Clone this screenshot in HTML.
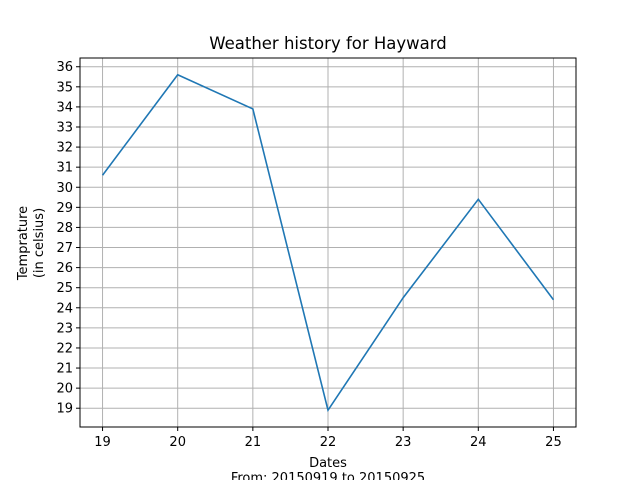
<!DOCTYPE html>
<html><head><meta charset="utf-8">
<style>
html,body{margin:0;padding:0;background:#fff;}
svg text{font-family:"DejaVu Sans",sans-serif;fill:#000;}
</style></head>
<body>
<svg id="chart" width="640" height="480" xmlns="http://www.w3.org/2000/svg">
<rect width="640" height="480" fill="#fff"/>
<text x="328" y="49" font-size="16.5" text-anchor="middle">Weather history for Hayward</text>
<g id="grid"></g>
<g id="ticks"></g>
<polyline id="line" fill="none" stroke="#1f77b4" stroke-width="1.6"/>
<rect x="80" y="58" width="496" height="369" fill="none" stroke="#000" stroke-width="1"/>
<text x="328" y="467" font-size="13" text-anchor="middle">Dates</text>
<text x="328" y="482" font-size="13" text-anchor="middle">From: 20150919 to 20150925</text>
<text transform="translate(27,243) rotate(-90)" font-size="13" text-anchor="middle">Temprature</text>
<text transform="translate(43,243) rotate(-90)" font-size="13" text-anchor="middle">(in celsius)</text>
</svg>
<script>
const dates = [19, 20, 21, 22, 23, 24, 25];
const temps = [30.6, 35.6, 33.9, 18.9, 24.5, 29.4, 24.4];
const yTicks = [19,20,21,22,23,24,25,26,27,28,29,30,31,32,33,34,35,36];
const xTicks = [19,20,21,22,23,24,25];

const L=80,R=576,T=58,B=427;
const xmin=Math.min(...dates),xmax=Math.max(...dates);
const xpad=(xmax-xmin)*0.05;
const ymin=Math.min(...temps),ymax=Math.max(...temps);
const ypad=(ymax-ymin)*0.05;
const X=v=>L+(v-(xmin-xpad))/((xmax+xpad)-(xmin-xpad))*(R-L);
const Y=v=>B-(v-(ymin-ypad))/((ymax+ypad)-(ymin-ypad))*(B-T);
const NS='http://www.w3.org/2000/svg';
const grid=document.getElementById('grid'),ticks=document.getElementById('ticks');
function mk(tag,attrs,parent){const e=document.createElementNS(NS,tag);for(const k in attrs)e.setAttribute(k,attrs[k]);parent.appendChild(e);return e;}
xTicks.forEach(v=>{
  const x=X(v);
  const g=mk('line',{x1:x,x2:x,y1:T,y2:B,stroke:'#b0b0b0','stroke-width':1},grid);
  
  
  const t=mk('line',{x1:x,x2:x,y1:B,y2:B+4,stroke:'#000'},ticks);
  
  
  const l=mk('text',{x:x,y:B+19,'font-size':13,'text-anchor':'middle'},ticks);
  l.textContent=v;
  
  
});
yTicks.forEach(v=>{
  const y=Y(v);
  const g=mk('line',{x1:L,x2:R,y1:y,y2:y,stroke:'#b0b0b0','stroke-width':1},grid);
  
  
  const t=mk('line',{x1:L-4,x2:L,y1:y,y2:y,stroke:'#000'},ticks);
  
  
  const l=mk('text',{x:L-7,y:y+4.5,'font-size':13,'text-anchor':'end'},ticks);
  l.textContent=v;
  
  
});
document.getElementById('line').setAttribute('points',dates.map((d,i)=>X(d)+','+Y(temps[i])).join(' '));
</script>
</body></html>
